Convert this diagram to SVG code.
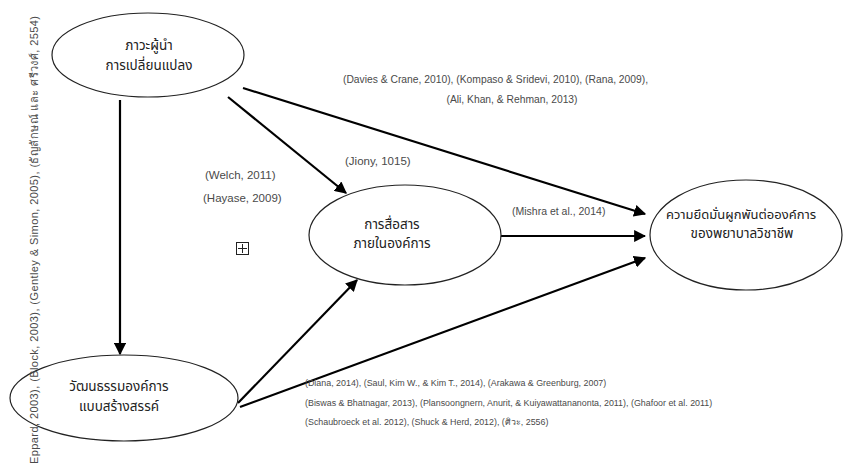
<svg xmlns="http://www.w3.org/2000/svg" width="846" height="470" viewBox="0 0 846 470">
<defs>
<marker id="ah" viewBox="0 0 10 10" refX="9" refY="5" markerWidth="5.5" markerHeight="5.5" orient="auto" markerUnits="strokeWidth">
<path d="M0,0 L10,5 L0,10 z" fill="#000"/>
</marker>
<style>
.node ellipse{fill:#fff;stroke:#222;stroke-width:1.2}
.th{font-family:"Noto Sans","Noto Sans Thai","DejaVu Sans",sans-serif;font-size:13.5px;fill:#222;text-anchor:middle}
.cit{font-family:"Liberation Sans","Noto Sans",sans-serif;font-size:8.9px;fill:#4a4a4a}
.conn line{stroke:#000;stroke-width:2.2;marker-end:url(#ah)}
</style>
</defs>
<rect width="846" height="470" fill="#fff"/>
<g id="connectors" class="conn">
<line x1="120" y1="100" x2="120" y2="354"/>
<line x1="243" y1="88" x2="645" y2="214"/>
<line x1="228" y1="97" x2="346" y2="193"/>
<line x1="500" y1="236" x2="645" y2="236"/>
<line x1="238" y1="403" x2="357" y2="280"/>
<line x1="240" y1="407" x2="645" y2="258"/>
</g>
<g id="n1" class="node">
<ellipse cx="148" cy="55" rx="96" ry="42"/>
<text class="th" x="149" y="50">ภาวะผู้นำ</text>
<text class="th" x="149" y="70">การเปลี่ยนแปลง</text>
</g>
<g id="n2" class="node">
<ellipse cx="405" cy="235" rx="96" ry="50"/>
<text class="th" x="392" y="229">การสื่อสาร</text>
<text class="th" x="392" y="248">ภายในองค์การ</text>
</g>
<g id="n3" class="node">
<ellipse cx="746" cy="235" rx="96" ry="55"/>
<text class="th" x="741" y="219" style="font-size:13px">ความยึดมั่นผูกพันต่อองค์การ</text>
<text class="th" x="742" y="238">ของพยาบาลวิชาชีพ</text>
</g>
<g id="n4" class="node">
<ellipse cx="124" cy="398" rx="114" ry="43"/>
<text class="th" x="119" y="391">วัฒนธรรมองค์การ</text>
<text class="th" x="119" y="411">แบบสร้างสรรค์</text>
</g>
<g id="labels">
<text class="cit" x="343" y="83" style="font-size:10.3px">(Davies &amp; Crane, 2010), (Kompaso &amp; Sridevi, 2010), (Rana, 2009),</text>
<text class="cit" x="512" y="103" text-anchor="middle" style="font-size:10.3px">(Ali, Khan, &amp; Rehman, 2013)</text>
<text class="cit" x="205" y="179" style="font-size:11.5px">(Welch, 2011)</text>
<text class="cit" x="203" y="202" style="font-size:11.5px">(Hayase, 2009)</text>
<text class="cit" x="345" y="165" style="font-size:11.5px">(Jiony, 1015)</text>
<text class="cit" x="512" y="215" style="font-size:10.5px">(Mishra et al., 2014)</text>
<text class="cit" x="305" y="386">(Diana, 2014), (Saul, Kim W., &amp; Kim T., 2014), (Arakawa &amp; Greenburg, 2007)</text>
<text class="cit" x="305" y="406">(Biswas &amp; Bhatnagar, 2013), (Plansoongnern, Anurit, &amp; Kuiyawattananonta, 2011), (Ghafoor et al. 2011)</text>
<text class="cit" x="305" y="425">(Schaubroeck et al. 2012), (Shuck &amp; Herd, 2012), (ศิวะ, 2556)</text>
<text class="cit" transform="translate(38 240) rotate(-90)" text-anchor="middle" style="font-size:11px" textLength="448" lengthAdjust="spacing">Eppard, 2003), (Block, 2003), (Gentley &amp; Simon, 2005), (ธัญลักษณ์ และ ศรีวงศ์, 2554)</text>
<g id="icon" fill="none" stroke="#222" stroke-width="1">
<rect x="236.5" y="242.5" width="12" height="12"/>
<line x1="242.5" y1="244" x2="242.5" y2="253"/>
<line x1="238" y1="248.5" x2="247" y2="248.5"/>
</g>
</g>
</svg>
